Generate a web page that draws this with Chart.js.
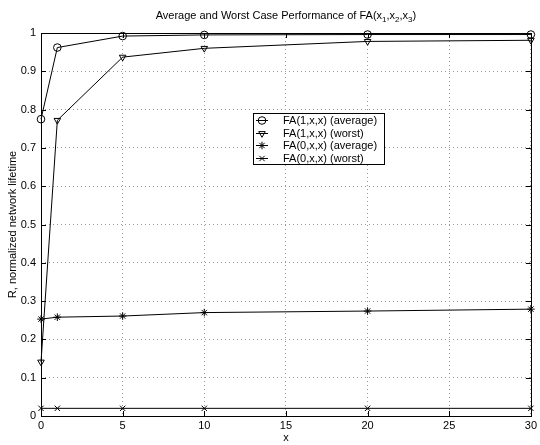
<!DOCTYPE html>
<html>
<head>
<meta charset="utf-8">
<script src="https://cdn.jsdelivr.net/npm/chart.js@4.4.1/dist/chart.umd.min.js"></script>
<style>
  html, body { margin: 0; padding: 0; background: #fff; }
  #wrap { width: 540px; height: 445px; }
</style>
</head>
<body>
<div id="wrap"><canvas id="grafica" width="540" height="445"></canvas></div>
<script>
const xValues = [0, 1, 5, 10, 20, 30];
const fa1Average = [0.775, 0.962, 0.992, 0.995, 0.996, 0.996];
const fa1Worst = [0.141, 0.772, 0.937, 0.960, 0.978, 0.981];
const fa0Average = [0.253, 0.258, 0.261, 0.270, 0.274, 0.279];
const fa0Worst = [0.02, 0.02, 0.02, 0.02, 0.02, 0.02];
const seriesLabels = ['FA(1,x,x) (average)', 'FA(1,x,x) (worst)', 'FA(0,x,x) (average)', 'FA(0,x,x) (worst)'];
const xTicks = [0, 5, 10, 15, 20, 25, 30];
const yTicks = [0, 0.1, 0.2, 0.3, 0.4, 0.5, 0.6, 0.7, 0.8, 0.9, 1];

const FUENTE = '"Liberation Sans", Arial, Helvetica, sans-serif';

function serie(label, valores, estilo, rot) {
  return {
    label: label,
    data: valores.map((v, i) => ({ x: xValues[i], y: v })),
    borderColor: '#000',
    borderWidth: 1,
    pointStyle: estilo,
    rotation: rot || 0,
    pointRadius: 3.8,
    pointHoverRadius: 3.8,
    pointBorderColor: '#000',
    pointBackgroundColor: 'rgba(0,0,0,0)',
    pointBorderWidth: 1,
    fill: false,
    tension: 0
  };
}

// marco, ticks hacia dentro, titulo con subindices y leyenda
const extras = {
  id: 'extras',
  afterDatasetsDraw(chart) {
    const ctx = chart.ctx;
    const a = chart.chartArea;
    const sx = chart.scales.x, sy = chart.scales.y;
    ctx.save();
    ctx.strokeStyle = '#000';
    ctx.lineWidth = 1;
    ctx.strokeRect(Math.round(a.left) + 0.5, Math.round(a.top) + 0.5, Math.round(a.right - a.left), Math.round(a.bottom - a.top));
    ctx.beginPath();
    xTicks.forEach(t => {
      const px = Math.round(sx.getPixelForValue(t)) + 0.5;
      ctx.moveTo(px, a.bottom); ctx.lineTo(px, a.bottom - 5);
      ctx.moveTo(px, a.top); ctx.lineTo(px, a.top + 5);
    });
    yTicks.forEach(t => {
      const py = Math.round(sy.getPixelForValue(t)) + 0.5;
      ctx.moveTo(a.left, py); ctx.lineTo(a.left + 5, py);
      ctx.moveTo(a.right, py); ctx.lineTo(a.right - 5, py);
    });
    ctx.stroke();

    // titulo
    const partes = [['Average and Worst Case Performance of FA(x', 0], ['1', 1], [',x', 0], ['2', 1], [',x', 0], ['3', 1], [')', 0]];
    const normal = '11px ' + FUENTE, sub = '8px ' + FUENTE;
    let ancho = 0;
    partes.forEach(p => { ctx.font = p[1] ? sub : normal; ancho += ctx.measureText(p[0]).width; });
    let x = (a.left + a.right) / 2 - ancho / 2;
    ctx.fillStyle = '#000';
    ctx.textBaseline = 'alphabetic';
    ctx.textAlign = 'left';
    partes.forEach(p => {
      ctx.font = p[1] ? sub : normal;
      ctx.fillText(p[0], x, p[1] ? 22 : 19);
      x += ctx.measureText(p[0]).width;
    });

    // leyenda
    const lx = a.left + 212, ly = a.top + 80, lw = 131, lh = 51;
    ctx.fillStyle = '#fff';
    ctx.fillRect(lx, ly, lw, lh);
    ctx.strokeRect(Math.round(lx) + 0.5, Math.round(ly) + 0.5, lw, lh);
    ctx.font = '11px ' + FUENTE;
    ctx.textBaseline = 'middle';
    chart.data.datasets.forEach((ds, i) => {
      const yy = Math.round(ly + 7 + i * 12.7) + 0.5;
      ctx.beginPath();
      ctx.moveTo(lx + 3, yy); ctx.lineTo(lx + 15, yy);
      ctx.stroke();
      ctx.fillStyle = 'rgba(0,0,0,0)';
      Chart.helpers.drawPoint(ctx, {
        pointStyle: ds.pointStyle, rotation: ds.rotation, radius: 3.8, borderWidth: 1
      }, lx + 9, yy);
      ctx.fillStyle = '#000';
      ctx.fillText(ds.label, lx + 30, yy);
    });
    ctx.restore();
  }
};

new Chart(document.getElementById('grafica'), {
  type: 'line',
  data: {
    datasets: [
      serie(seriesLabels[0], fa1Average, 'circle'),
      serie(seriesLabels[1], fa1Worst, 'triangle', 180),
      serie(seriesLabels[2], fa0Average, 'star'),
      serie(seriesLabels[3], fa0Worst, 'crossRot')
    ]
  },
  options: {
    responsive: false,
    animation: false,
    events: [],
    layout: { padding: { top: 33, right: 8, left: 0, bottom: 0 } },
    scales: {
      x: {
        type: 'linear',
        min: 0, max: 30,
        afterFit: s => { s.height = 29; },
        afterBuildTicks: s => { s.ticks = xTicks.map(v => ({ value: v })); },
        ticks: { color: '#000', font: { family: FUENTE, size: 11 }, padding: 3, maxRotation: 0 },
        grid: { color: '#999', drawTicks: false },
        border: { display: false, dash: [1, 3] },
        title: { display: true, text: 'x', color: '#000', font: { family: FUENTE, size: 11 }, padding: 0 }
      },
      y: {
        min: 0, max: 1,
        afterFit: s => { s.width = 41; },
        afterBuildTicks: s => { s.ticks = yTicks.map(v => ({ value: v })); },
        ticks: { color: '#000', font: { family: FUENTE, size: 11 }, padding: 5, callback: v => String(Number(v.toFixed(1))) },
        grid: { color: '#999', drawTicks: false },
        border: { display: false, dash: [1, 3] },
        title: { display: true, text: 'R, normalized network lifetime', color: '#000', font: { family: FUENTE, size: 11 }, padding: { top: 6, bottom: 0 } }
      }
    },
    plugins: {
      legend: { display: false },
      title: { display: false },
      tooltip: { enabled: false }
    },
    clip: false
  },
  plugins: [extras]
});
</script>
</body>
</html>
